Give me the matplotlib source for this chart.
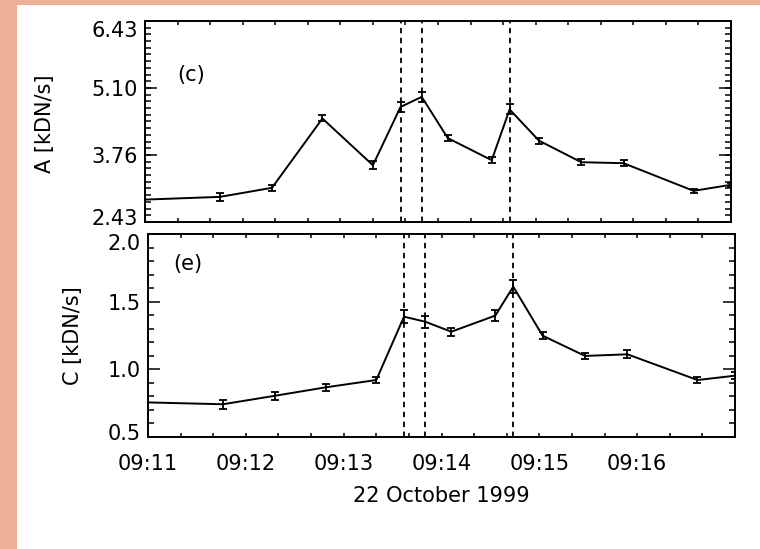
import numpy as np
import pandas as pd
import matplotlib
matplotlib.use("Agg")
import matplotlib.pyplot as plt
import matplotlib.dates as mdates
import matplotlib.transforms as mtransforms
from matplotlib.patches import Rectangle

plt.rcParams['font.family'] = ['DejaVu Sans']

# Dados
times = ["09:10:55", "09:11:46", "09:12:18", "09:12:49", "09:13:20", "09:13:37",
         "09:13:50", "09:14:06", "09:14:33", "09:14:44", "09:15:02", "09:15:28",
         "09:15:54", "09:16:37", "09:17:00"]
A_vals = [2.87, 2.93, 3.11, 4.49, 3.56, 4.72, 4.92, 4.10, 3.66, 4.67, 4.05, 3.62, 3.60, 3.05, 3.17]
A_err = [0.06, 0.08, 0.06, 0.06, 0.08, 0.10, 0.10, 0.06, 0.06, 0.10, 0.06, 0.06, 0.06, 0.04, 0.04]
C_vals = [0.757, 0.742, 0.805, 0.867, 0.921, 1.389, 1.352, 1.278, 1.397, 1.611, 1.249, 1.099, 1.111, 0.921, 0.953]
C_err = [0.030, 0.033, 0.030, 0.025, 0.025, 0.050, 0.044, 0.030, 0.040, 0.050, 0.025, 0.025, 0.030, 0.025, 0.025]
events = ["09:13:37", "09:13:50", "09:14:44"]

A_ticks = [2.43, 3.76, 5.10, 6.43]
A_labels = ['2.43', '3.76', '5.10', '6.43']
C_ticks = [0.5, 1.0, 1.5, 2.0]
C_labels = ['0.5', '1.0', '1.5', '2.0']
x_labels = ['09:11', '09:12', '09:13', '09:14', '09:15', '09:16', '']

day = "1999-10-22 "
t = pd.to_datetime([day + s for s in times])
t_ev = pd.to_datetime([day + s for s in events])
t0 = pd.Timestamp(day + "09:11:00")
t1 = pd.Timestamp(day + "09:17:00")
t_major = pd.date_range(t0, t1, freq='1min')

fs = 15

fig = plt.figure(figsize=(7.6, 5.49), dpi=100)
fig.patch.set_facecolor('#ebb095')
fig.patches.append(Rectangle((17 / 760, 0), 1, (549 - 5) / 549, transform=fig.transFigure,
                             facecolor='white', edgecolor='none', zorder=-10))

ax1 = fig.add_axes([145 / 760, (549 - 222) / 549, 586 / 760, 201 / 549])
ax2 = fig.add_axes([148 / 760, (549 - 437) / 549, 587 / 760, 203 / 549])


def style(ax, yticks, ylabels, yminor):
    ax.set_xlim(t0, t1)
    ax.set_ylim(yticks[0], yticks[-1])
    ax.set_yticks(yticks, ylabels)
    ax.set_yticks(yminor, minor=True)
    ax.set_xticks(t_major, x_labels)
    ax.xaxis.set_minor_locator(mdates.SecondLocator(bysecond=[20, 40]))
    ax.tick_params(axis='both', which='both', direction='in', top=True, right=True,
                   width=1.1, labelsize=fs)
    ax.tick_params(axis='y', which='major', length=8.5, pad=5)
    ax.tick_params(axis='y', which='minor', length=4.5)
    ax.tick_params(axis='x', which='both', length=3, pad=12)
    for sp in ax.spines.values():
        sp.set_linewidth(1.4)
    for te in t_ev:
        ax.axvline(te, color='black', lw=1.3, linestyle=(0, (3, 2.5)))
    # rótulos das pontas empurrados para dentro, como no original
    labs = ax.get_yticklabels()
    labs[0].set_transform(labs[0].get_transform() +
                          mtransforms.ScaledTranslation(0, 5 / 100, fig.dpi_scale_trans))
    labs[-1].set_transform(labs[-1].get_transform() +
                           mtransforms.ScaledTranslation(0, -8 / 100, fig.dpi_scale_trans))


ax1.errorbar(t, A_vals, yerr=A_err, color='black', lw=1.4, elinewidth=1.3,
             capsize=3, capthick=1.3)
style(ax1, A_ticks, A_labels, np.linspace(2.43, 6.43, 31))
ax1.tick_params(axis='x', labelbottom=False)
ax1.set_ylabel('A [kDN/s]', fontsize=fs)
ax1.yaxis.set_label_coords(-0.154, 0.49)
ax1.text(0.078, 0.73, '(c)', transform=ax1.transAxes, fontsize=fs, ha='center', va='center')

ax2.errorbar(t, C_vals, yerr=C_err, color='black', lw=1.4, elinewidth=1.3,
             capsize=3, capthick=1.3)
style(ax2, C_ticks, C_labels, np.arange(0.5, 2.01, 0.1))
ax2.set_ylabel('C [kDN/s]', fontsize=fs)
ax2.yaxis.set_label_coords(-0.111, 0.5)
ax2.text(0.068, 0.85, '(e)', transform=ax2.transAxes, fontsize=fs, ha='center', va='center')
ax2.set_xlabel('22 October 1999', fontsize=fs, labelpad=9)

fig.savefig('out.png', dpi=100, facecolor=fig.get_facecolor())
